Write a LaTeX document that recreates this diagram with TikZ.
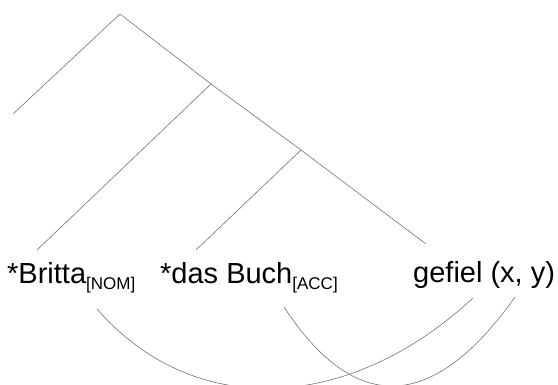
\documentclass[tikz,border=0pt]{standalone}
\usepackage{fontspec}
\setmainfont{Liberation Sans}
\tikzstyle{every node}=[inner sep=0pt,anchor=base west]
\tikzstyle{word}=[font=\fontsize{29}{29}\selectfont]
\tikzstyle{branch}=[draw=black!55,line width=0.6pt]
\tikzstyle{link}=[draw=black!55,line width=0.6pt]
\newcommand{\casesub}[1]{\raisebox{-6.5pt}{\fontsize{17}{17}\selectfont[#1]}}

\begin{document}
\begin{tikzpicture}[x=1pt,y=-1pt]
\useasboundingbox (0,0) rectangle (558,384);
\clip (0,0) rectangle (558,384);
% tree
\coordinate (root) at (120,14);
\coordinate (vp) at (211,84);
\coordinate (vbar) at (301,150);
\coordinate (spec) at (13,114);
\coordinate (subj) at (37,250);
\coordinate (obj) at (196,250);
\coordinate (verb) at (426,244);
\draw[branch] (spec) -- (root) -- (vp) -- (vbar) -- (verb);
\draw[branch] (vp) -- (subj);
\draw[branch] (vbar) -- (obj);
% words
\node[word] (britta) at (7,283) {*Britta\casesub{NOM}};
\node[word] (buch) at (160,283) {*das Buch\casesub{ACC}};
\node[word] (gefiel) at (413,282) {gefiel (x, y)};
% argument links
\coordinate (nom) at (97,309);
\coordinate (acc) at (284,307);
\coordinate (argx) at (473,298);
\coordinate (argy) at (515,297);
\draw[link] (nom) .. controls (195,421) and (350,412) .. (argx);
\draw[link] (acc) .. controls (354,414) and (432,414) .. (argy);
\end{tikzpicture}
\end{document}
